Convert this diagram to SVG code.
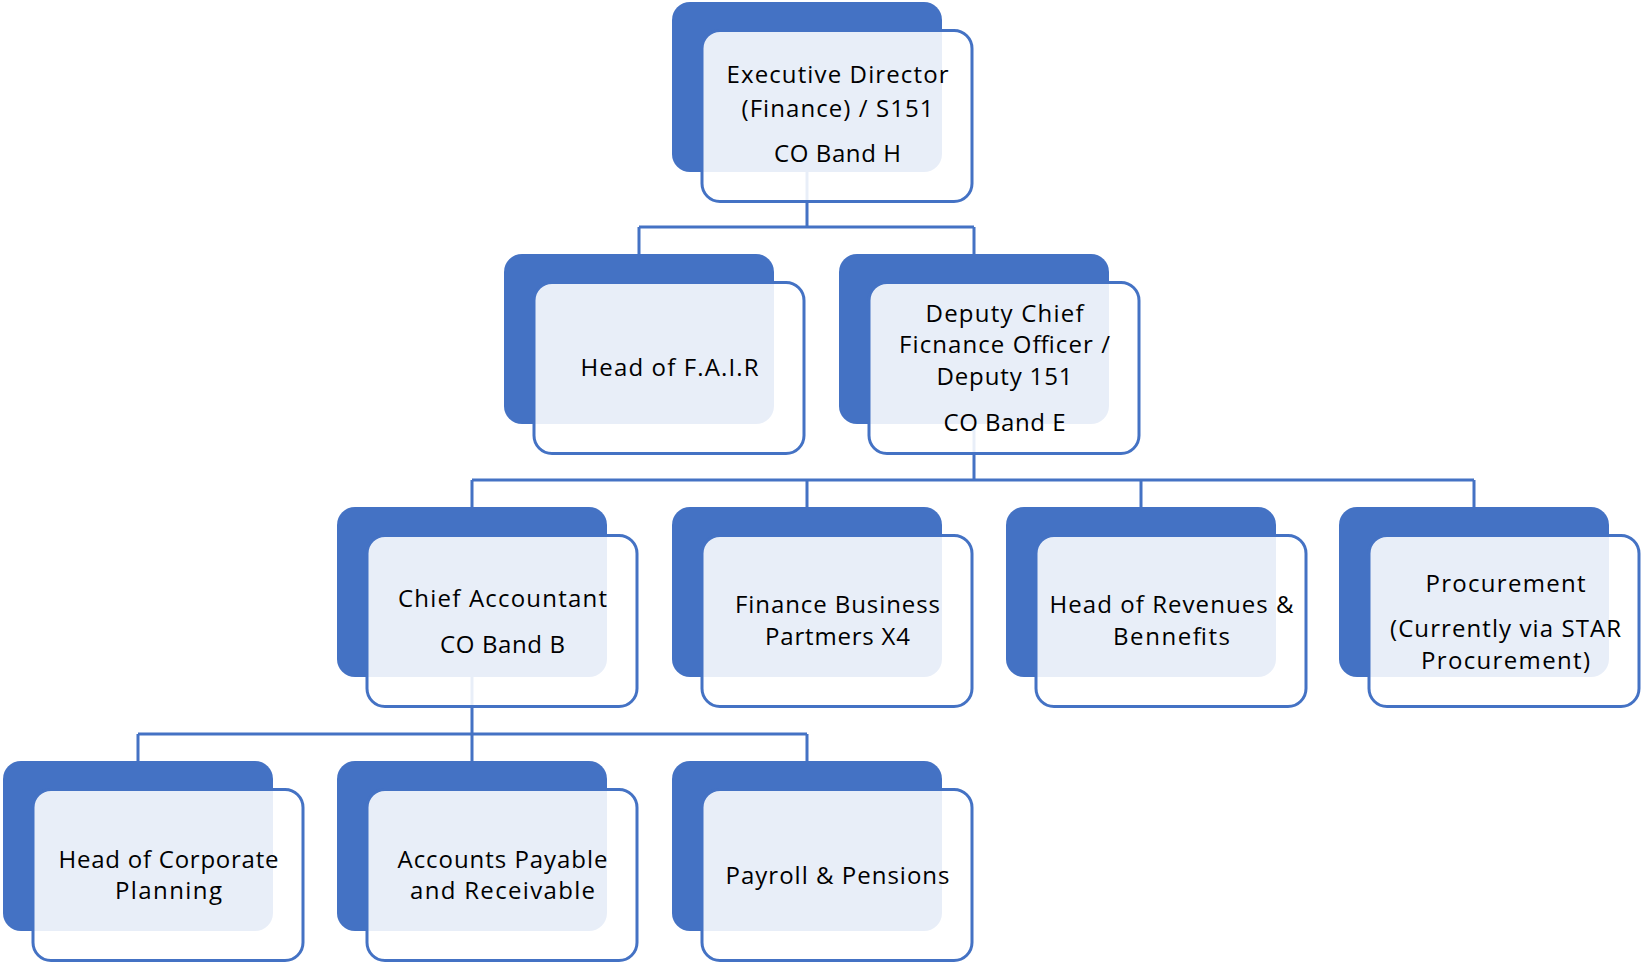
<svg xmlns="http://www.w3.org/2000/svg" width="1641" height="963" viewBox="0 0 1641 963">
<style>
.dk{fill:#4472C4}
.lt{fill:#FFFFFF;fill-opacity:0.88;stroke:#4472C4;stroke-width:3}
.cn{fill:none;stroke:#4472C4;stroke-width:3}
text{font-family:"Open Sans","Noto Sans","Liberation Sans",sans-serif;font-size:24px;fill:#000;text-anchor:middle}
</style>
<rect width="1641" height="963" fill="#FFFFFF"/>
<g id="connectors">
<path class="cn" d="M807,172 V227 M639,227 H974 M639,227 V254 M974,227 V254"/>
<path class="cn" d="M974,424 V480 M472,480 H1474 M472,480 V507 M807,480 V507 M1141,480 V507 M1474,480 V507"/>
<path class="cn" d="M472,677 V734 M138,734 H807 M138,734 V761 M472,734 V761 M807,734 V761"/>
</g>
<g id="exec">
<rect class="dk" x="672" y="2" width="270" height="170" rx="18"/>
<rect class="lt" x="702" y="30.5" width="270" height="171" rx="18"/>
<text x="837.5" y="83" textLength="222" lengthAdjust="spacing">Executive Director</text>
<text x="837.5" y="117" textLength="192" lengthAdjust="spacing">(Finance) / S151</text>
<text x="837.5" y="162" textLength="127" lengthAdjust="spacing">CO Band H</text>
</g>
<g id="fair">
<rect class="dk" x="504" y="254" width="270" height="170" rx="18"/>
<rect class="lt" x="534" y="282.5" width="270" height="171" rx="18"/>
<text x="669.5" y="376" textLength="178" lengthAdjust="spacing">Head of F.A.I.R</text>
</g>
<g id="deputy">
<rect class="dk" x="839" y="254" width="270" height="170" rx="18"/>
<rect class="lt" x="869" y="282.5" width="270" height="171" rx="18"/>
<text x="1004.5" y="322" textLength="158" lengthAdjust="spacing">Deputy Chief</text>
<text x="1004.5" y="353" textLength="211" lengthAdjust="spacing">Ficnance Officer /</text>
<text x="1004.5" y="385" textLength="136" lengthAdjust="spacing">Deputy 151</text>
<text x="1004.5" y="431" textLength="122" lengthAdjust="spacing">CO Band E</text>
</g>
<g id="chief">
<rect class="dk" x="337" y="507" width="270" height="170" rx="18"/>
<rect class="lt" x="367" y="535.5" width="270" height="171" rx="18"/>
<text x="502.5" y="607" textLength="209" lengthAdjust="spacing">Chief Accountant</text>
<text x="502.5" y="653" textLength="125" lengthAdjust="spacing">CO Band B</text>
</g>
<g id="fbp">
<rect class="dk" x="672" y="507" width="270" height="170" rx="18"/>
<rect class="lt" x="702" y="535.5" width="270" height="171" rx="18"/>
<text x="837.5" y="613" textLength="205" lengthAdjust="spacing">Finance Business</text>
<text x="837.5" y="645" textLength="145" lengthAdjust="spacing">Partmers X4</text>
</g>
<g id="revenues">
<rect class="dk" x="1006" y="507" width="270" height="170" rx="18"/>
<rect class="lt" x="1036" y="535.5" width="270" height="171" rx="18"/>
<text x="1171.5" y="613" textLength="244" lengthAdjust="spacing">Head of Revenues &amp;</text>
<text x="1171.5" y="645" textLength="117" lengthAdjust="spacing">Bennefits</text>
</g>
<g id="procurement">
<rect class="dk" x="1339" y="507" width="270" height="170" rx="18"/>
<rect class="lt" x="1369" y="535.5" width="270" height="171" rx="18"/>
<text x="1505.5" y="592" textLength="160" lengthAdjust="spacing">Procurement</text>
<text x="1505.5" y="637" textLength="231" lengthAdjust="spacing">(Currently via STAR</text>
<text x="1505.5" y="669" textLength="169" lengthAdjust="spacing">Procurement)</text>
</g>
<g id="corporate">
<rect class="dk" x="3" y="761" width="270" height="170" rx="18"/>
<rect class="lt" x="33" y="789.5" width="270" height="171" rx="18"/>
<text x="168.5" y="868" textLength="220" lengthAdjust="spacing">Head of Corporate</text>
<text x="168.5" y="899" textLength="107" lengthAdjust="spacing">Planning</text>
</g>
<g id="payable">
<rect class="dk" x="337" y="761" width="270" height="170" rx="18"/>
<rect class="lt" x="367" y="789.5" width="270" height="171" rx="18"/>
<text x="502.5" y="868" textLength="210" lengthAdjust="spacing">Accounts Payable</text>
<text x="502.5" y="899" textLength="185" lengthAdjust="spacing">and Receivable</text>
</g>
<g id="payroll">
<rect class="dk" x="672" y="761" width="270" height="170" rx="18"/>
<rect class="lt" x="702" y="789.5" width="270" height="171" rx="18"/>
<text x="837.5" y="884" textLength="224" lengthAdjust="spacing">Payroll &amp; Pensions</text>
</g>
</svg>
